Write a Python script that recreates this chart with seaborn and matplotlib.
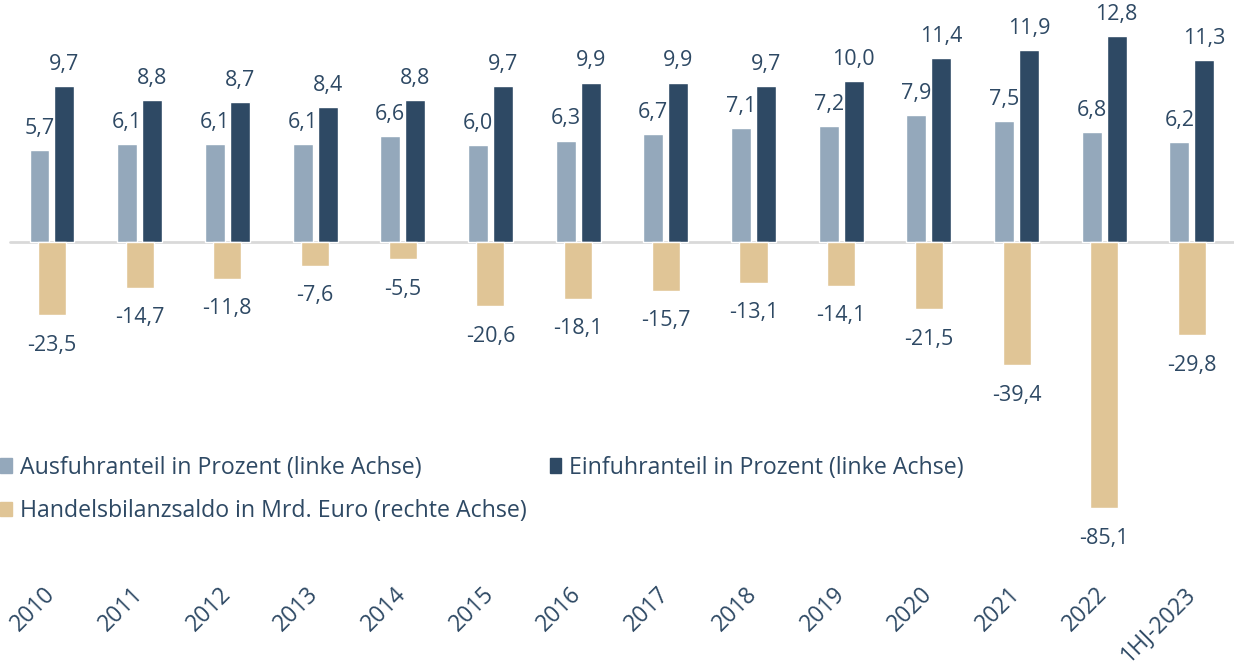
import matplotlib
matplotlib.use("Agg")
import matplotlib.pyplot as plt
from matplotlib.patches import Patch
import seaborn as sns
import pandas as pd

# chart data
years = ["2010", "2011", "2012", "2013", "2014", "2015", "2016", "2017",
         "2018", "2019", "2020", "2021", "2022", "1HJ-2023"]
ausfuhr = [5.7, 6.1, 6.1, 6.1, 6.6, 6.0, 6.3, 6.7, 7.1, 7.2, 7.9, 7.5, 6.8, 6.2]
einfuhr = [9.7, 8.8, 8.7, 8.4, 8.8, 9.7, 9.9, 9.9, 9.7, 10.0, 11.4, 11.9, 12.8, 11.3]
saldo = [-23.5, -14.7, -11.8, -7.6, -5.5, -20.6, -18.1, -15.7, -13.1, -14.1,
         -21.5, -39.4, -85.1, -29.8]

lbl_aus = "Ausfuhranteil in Prozent (linke Achse)"
lbl_ein = "Einfuhranteil in Prozent (linke Achse)"
lbl_sal = "Handelsbilanzsaldo in Mrd. Euro (rechte Achse)"

c_light = "#94A8BB"
c_dark = "#2E4964"
c_tan = "#E0C596"
c_text = "#2E4964"

sns.set_theme(style="white")
plt.rcParams["font.family"] = ["Open Sans", "DejaVu Sans"]

shares = pd.DataFrame({
    "year": years * 2,
    "value": ausfuhr + einfuhr,
    "series": [lbl_aus] * len(years) + [lbl_ein] * len(years),
})
balance = pd.DataFrame({"year": years, "value": saldo})

fig = plt.figure(figsize=(12.34, 6.68), dpi=100)
ax = fig.add_axes([0, 0.132, 1, 0.868])
ax2 = ax.twinx()

sns.barplot(data=shares, x="year", y="value", hue="series", order=years,
            palette=[c_light, c_dark], width=0.57, gap=0.2, ax=ax,
            legend=False, saturation=1)
sns.barplot(data=balance, x="year", y="value", order=years, color=c_tan,
            width=0.32, ax=ax2, saturation=1)

def fmt(v):
    return f"{v:.1f}".replace(".", ",")

for cont, vals in zip(ax.containers, [ausfuhr, einfuhr]):
    ax.bar_label(cont, labels=[fmt(v) for v in vals], padding=8,
                 fontsize=15.5, color=c_text)
for cont in ax2.containers:
    ax2.bar_label(cont, labels=[fmt(v) for v in saldo], padding=14,
                  fontsize=15.5, color=c_text)

ax.set_ylim(-20.99, 15.03)
ax2.set_ylim(-108.0, 77.3)
ax.set_xlim(-0.593, 13.48)
ax.axhline(0, xmin=0.008, color="#D9D9D9", lw=2, zorder=0)

for a in (ax, ax2):
    for s in a.spines.values():
        s.set_visible(False)
    a.set_yticks([])
    a.set_ylabel("")
    a.set_xlabel("")

ax.tick_params(axis="x", length=0, pad=8)
ax.set_xticks(range(len(years)))
ax.set_xticklabels(years, rotation=45, ha="right", va="center",
                   rotation_mode="anchor", fontsize=16.5, color=c_text)

handles = [Patch(color=c_light, label=lbl_aus),
           Patch(color=c_tan, label=lbl_sal),
           Patch(color=c_dark, label=lbl_ein)]
fig.legend(handles=handles, loc="upper left", bbox_to_anchor=(0.0, 0.318),
           ncol=2, frameon=False, fontsize=16.7, labelcolor=c_text,
           handlelength=0.5, handleheight=0.6, handletextpad=0.35,
           labelspacing=0.85, columnspacing=1.0, borderpad=0, borderaxespad=0)

fig.savefig("out.png", dpi=100)
